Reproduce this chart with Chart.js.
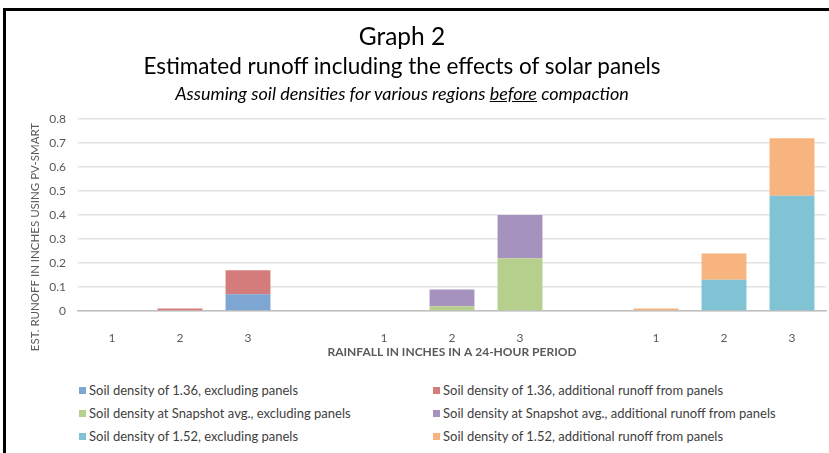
<!DOCTYPE html>
<html>
<head>
<meta charset="utf-8">
<script src="https://cdn.jsdelivr.net/npm/chart.js@4"></script>
<style>
  body { margin: 0; background: #fff; font-family: Lato, sans-serif; }
  #wrap { position: relative; width: 829px; height: 453px; overflow: hidden; background: #fff; }
  #frame { position: absolute; left: 3px; top: 8px; width: 900px; height: 500px;
           border-left: 3px solid #000; border-top: 3px solid #000; }
  .ttl { position: absolute; left: 0; width: 804px; text-align: center; color: #000; white-space: nowrap; }
  #t1 { top: 21px; font-size: 24.5px; line-height: 30px; }
  #t2 { top: 52px; font-size: 22.5px; line-height: 28px; }
  #t3 { top: 82px; font-size: 18px; line-height: 22px; font-style: italic; }
  #chartBox { position: absolute; left: 0; top: 0; width: 829px; height: 370px; }
  #legend { position: absolute; left: 0; top: 380px; width: 829px; }
  .li { position: absolute; font-size: 13px; color: #404040; white-space: nowrap; line-height: 15px; }
  .li span { display: inline-block; width: 7px; height: 7px; margin-right: 3px; vertical-align: 1px; }
</style>
</head>
<body>
<div id="wrap">
  <div id="frame"></div>
  <div id="chartBox"><canvas id="runoff" width="829" height="370"></canvas></div>
  <div class="ttl" id="t1">Graph 2</div>
  <div class="ttl" id="t2">Estimated runoff including the effects of solar panels</div>
  <div class="ttl" id="t3">Assuming soil densities for various regions <u>before</u> compaction</div>
  <div id="legend"></div>
</div>
<script>
// rainfall (inches) per group, blank slots separate the three soil groups
const categories = ['1', '2', '3', '', '1', '2', '3', '', '1', '2', '3'];

const soil136Excl = [0, 0, 0.07, null, null, null, null, null, null, null, null];
const soil136Add  = [0, 0.01, 0.10, null, null, null, null, null, null, null, null];
const snapExcl    = [null, null, null, null, 0, 0.02, 0.22, null, null, null, null];
const snapAdd     = [null, null, null, null, 0, 0.07, 0.18, null, null, null, null];
const soil152Excl = [null, null, null, null, null, null, null, null, 0, 0.13, 0.48];
const soil152Add  = [null, null, null, null, null, null, null, null, 0.01, 0.11, 0.24];

const seriesNames = [
  'Soil density of 1.36, excluding panels',
  'Soil density of 1.36, additional runoff from panels',
  'Soil density at Snapshot avg., excluding panels',
  'Soil density at Snapshot avg., additional runoff from panels',
  'Soil density of 1.52, excluding panels',
  'Soil density of 1.52, additional runoff from panels'
];
const seriesData = [soil136Excl, soil136Add, snapExcl, snapAdd, soil152Excl, soil152Add];
const seriesColors = ['#7ea6d3', '#d47c7b', '#b6cf8c', '#a692bf', '#80c3d5', '#f8b47e'];

const yTicks = [0, 0.1, 0.2, 0.3, 0.4, 0.5, 0.6, 0.7, 0.8];

const gray = '#595959';
const fontFam = 'Lato, sans-serif';

// rotated y axis title, centred like the original
const yTitlePlugin = {
  id: 'yTitle',
  afterDraw(chart) {
    const ctx = chart.ctx;
    ctx.save();
    ctx.translate(35, 237);
    ctx.rotate(-Math.PI / 2);
    ctx.font = '11.5px ' + fontFam;
    ctx.fillStyle = gray;
    ctx.textAlign = 'center';
    ctx.textBaseline = 'middle';
    ctx.fillText('EST. RUNOFF IN INCHES USING PV-SMART', 0, 0);
    ctx.restore();
  }
};

const ctx = document.getElementById('runoff');
new Chart(ctx, {
  type: 'bar',
  data: {
    labels: categories,
    datasets: seriesNames.map((name, i) => ({
      label: name,
      data: seriesData[i],
      backgroundColor: seriesColors[i],
      borderWidth: 0,
      barPercentage: 0.66,
      categoryPercentage: 1
    }))
  },
  options: {
    responsive: false,
    animation: false,
    layout: { padding: { top: 119, right: 3, left: 0, bottom: 0 } },
    plugins: {
      legend: { display: false },
      tooltip: { enabled: false }
    },
    scales: {
      x: {
        stacked: true,
        grid: { display: false },
        border: { display: true, color: '#bfbfbf', width: 1.5 },
        ticks: { color: gray, font: { family: fontFam, size: 12 }, padding: 12, maxRotation: 0 },
        title: {
          display: true,
          text: 'RAINFALL IN INCHES IN A 24-HOUR PERIOD',
          color: gray,
          font: { family: fontFam, size: 12, weight: 'bold' },
          padding: { top: 0, bottom: 11 }
        },
        afterFit: s => { s.height = 59; }
      },
      y: {
        stacked: true,
        min: 0,
        max: 0.8,
        afterBuildTicks: s => { s.ticks = yTicks.map(v => ({ value: v })); },
        grid: { color: '#e3e3e3', lineWidth: 1.5, drawTicks: false },
        border: { display: false },
        ticks: { color: gray, font: { family: fontFam, size: 12 }, padding: 12,
                 callback: v => String(Math.round(v * 10) / 10) },
        afterFit: s => { s.width = 78; }
      }
    }
  },
  plugins: [yTitlePlugin]
});

// two-column legend like the spreadsheet one
const legend = document.getElementById('legend');
seriesNames.forEach((name, i) => {
  const row = Math.floor(i / 2), col = i % 2;
  const el = document.createElement('div');
  el.className = 'li';
  el.style.left = (col ? 433 : 79) + 'px';
  el.style.top = (3 + row * 23) + 'px';
  el.innerHTML = '<span style="background:' + seriesColors[i] + '"></span>' + name;
  legend.appendChild(el);
});
</script>
</body>
</html>
